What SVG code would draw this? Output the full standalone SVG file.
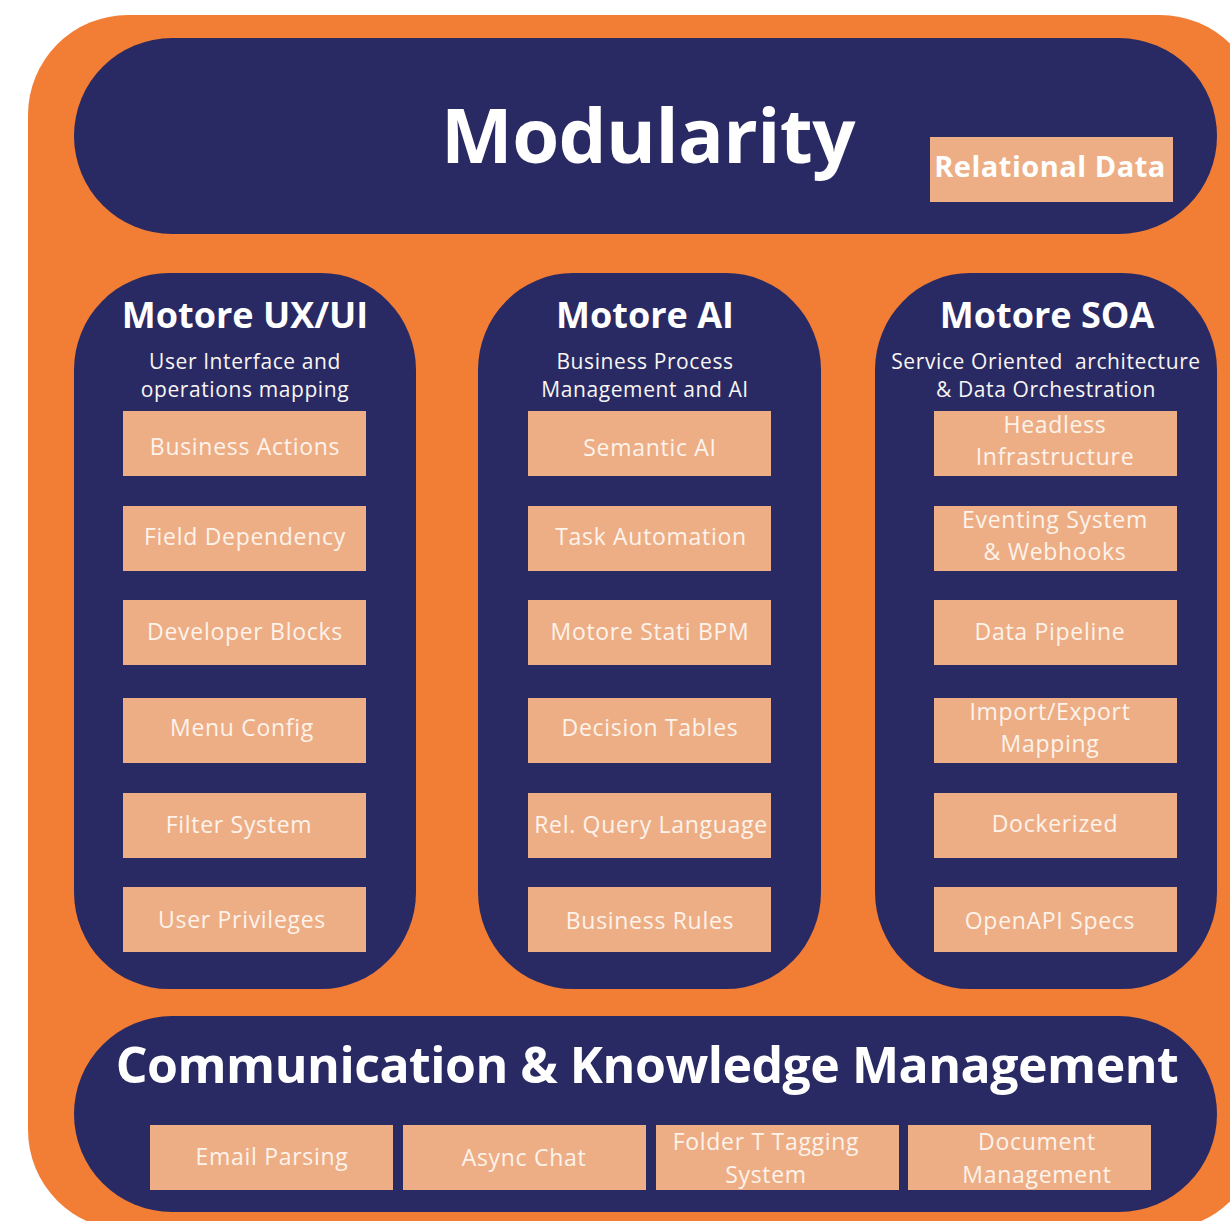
<svg xmlns="http://www.w3.org/2000/svg" width="1230" height="1221" viewBox="0 0 1230 1221">
<style>
.bg{fill:#f27d35}
.pill{fill:#292a63}
.box{fill:#edae86}
.t{font-family:"Open Sans","Noto Sans","Liberation Sans",sans-serif;fill:#ffffff;text-anchor:middle}
.h1{font-size:76px;font-weight:700;letter-spacing:-0.6px}
.h2{font-size:36px;font-weight:700}
.h3{font-size:50px;font-weight:700;letter-spacing:-0.5px}
.sub{font-size:21px;font-weight:400;fill:#f8f5f2;letter-spacing:0.6px}
.lbl{font-size:23px;font-weight:400;fill:#fdf3eb;letter-spacing:0.7px}
.rel{font-size:29px;font-weight:700;letter-spacing:0.5px}
</style>
<rect width="1230" height="1221" fill="#ffffff"/>
<rect class="bg" x="28" y="15" width="1232" height="1215" rx="100" ry="100"/>

<g id="modularity">
<rect class="pill" x="74" y="38" width="1143" height="196" rx="98" ry="98"/>
<text class="t h1" x="648" y="163">Modularity</text>
</g>
<g id="relational-data">
<rect class="box" x="930" y="137" width="243" height="65"/>
<text class="t rel" x="1050" y="177">Relational Data</text>
</g>

<g id="motore-uxui">
<rect class="pill" x="74" y="273" width="342" height="716" rx="95" ry="97"/>
<text class="t h2" x="245" y="328">Motore UX/UI</text>
<text class="t sub" x="245" y="369">User Interface and</text>
<text class="t sub" x="245" y="397">operations mapping</text>
</g>
<g id="business-actions"><rect class="box" x="123" y="411" width="243" height="65"/><text class="t lbl" x="245" y="455">Business Actions</text></g>
<g id="field-dependency"><rect class="box" x="123" y="506" width="243" height="65"/><text class="t lbl" x="245" y="545">Field Dependency</text></g>
<g id="developer-blocks"><rect class="box" x="123" y="600" width="243" height="65"/><text class="t lbl" x="245" y="640">Developer Blocks</text></g>
<g id="menu-config"><rect class="box" x="123" y="698" width="243" height="65"/><text class="t lbl" x="242" y="736">Menu Config</text></g>
<g id="filter-system"><rect class="box" x="123" y="793" width="243" height="65"/><text class="t lbl" x="239" y="833">Filter System</text></g>
<g id="user-privileges"><rect class="box" x="123" y="887" width="243" height="65"/><text class="t lbl" x="242" y="928">User Privileges</text></g>

<g id="motore-ai">
<rect class="pill" x="478" y="273" width="343" height="716" rx="95" ry="97"/>
<text class="t h2" x="645" y="328">Motore AI</text>
<text class="t sub" x="645" y="369">Business Process</text>
<text class="t sub" x="645" y="397">Management and AI</text>
</g>
<g id="semantic-ai"><rect class="box" x="528" y="411" width="243" height="65"/><text class="t lbl" x="650" y="456">Semantic AI</text></g>
<g id="task-automation"><rect class="box" x="528" y="506" width="243" height="65"/><text class="t lbl" x="651" y="545">Task Automation</text></g>
<g id="motore-stati-bpm"><rect class="box" x="528" y="600" width="243" height="65"/><text class="t lbl" x="650" y="640">Motore Stati BPM</text></g>
<g id="decision-tables"><rect class="box" x="528" y="698" width="243" height="65"/><text class="t lbl" x="650" y="736">Decision Tables</text></g>
<g id="rel-query-language"><rect class="box" x="528" y="793" width="243" height="65"/><text class="t lbl" x="651" y="833">Rel. Query Language</text></g>
<g id="business-rules"><rect class="box" x="528" y="887" width="243" height="65"/><text class="t lbl" x="650" y="929">Business Rules</text></g>

<g id="motore-soa">
<rect class="pill" x="875" y="273" width="342" height="716" rx="95" ry="97"/>
<text class="t h2" x="1047" y="328">Motore SOA</text>
<text class="t sub" x="1046" y="369" xml:space="preserve">Service Oriented  architecture</text>
<text class="t sub" x="1046" y="397">&amp; Data Orchestration</text>
</g>
<g id="headless-infrastructure"><rect class="box" x="934" y="411" width="243" height="65"/><text class="t lbl" x="1055" y="433">Headless</text><text class="t lbl" x="1055" y="465">Infrastructure</text></g>
<g id="eventing-system"><rect class="box" x="934" y="506" width="243" height="65"/><text class="t lbl" x="1055" y="528">Eventing System</text><text class="t lbl" x="1055" y="560">&amp; Webhooks</text></g>
<g id="data-pipeline"><rect class="box" x="934" y="600" width="243" height="65"/><text class="t lbl" x="1050" y="640">Data Pipeline</text></g>
<g id="import-export-mapping"><rect class="box" x="934" y="698" width="243" height="65"/><text class="t lbl" x="1050" y="720">Import/Export</text><text class="t lbl" x="1050" y="752">Mapping</text></g>
<g id="dockerized"><rect class="box" x="934" y="793" width="243" height="65"/><text class="t lbl" x="1055" y="832">Dockerized</text></g>
<g id="openapi-specs"><rect class="box" x="934" y="887" width="243" height="65"/><text class="t lbl" x="1050" y="929">OpenAPI Specs</text></g>

<g id="communication-knowledge">
<rect class="pill" x="74" y="1016" width="1143" height="196" rx="98" ry="98"/>
<text class="t h3" x="647" y="1083">Communication &amp; Knowledge Management</text>
</g>
<g id="email-parsing"><rect class="box" x="150" y="1125" width="243" height="65"/><text class="t lbl" x="272" y="1165">Email Parsing</text></g>
<g id="async-chat"><rect class="box" x="403" y="1125" width="243" height="65"/><text class="t lbl" x="524" y="1166">Async Chat</text></g>
<g id="folder-tagging"><rect class="box" x="656" y="1125" width="243" height="65"/><text class="t lbl" x="766" y="1150">Folder T Tagging</text><text class="t lbl" x="766" y="1183">System</text></g>
<g id="document-management"><rect class="box" x="908" y="1125" width="243" height="65"/><text class="t lbl" x="1037" y="1150">Document</text><text class="t lbl" x="1037" y="1183">Management</text></g>

<g id="connectors"></g>
</svg>
